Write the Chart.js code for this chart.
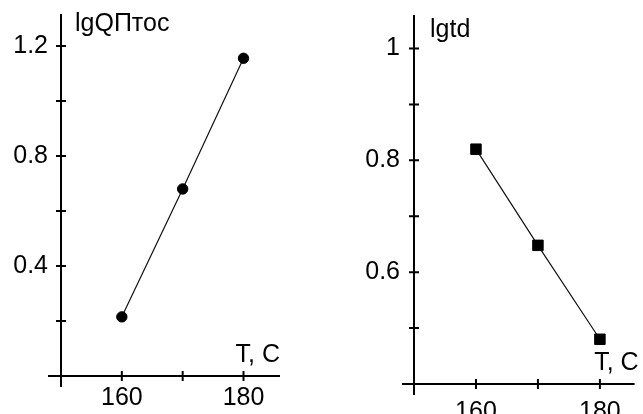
<!DOCTYPE html>
<html><head><meta charset="utf-8">
<script src="https://cdn.jsdelivr.net/npm/chart.js@4/dist/chart.umd.min.js"></script>
<style>
html,body{margin:0;padding:0;background:#fff;overflow:hidden}
#wrap{position:relative;width:643px;height:414px;background:#fff}
canvas{position:absolute;top:0}
#c1{left:0}
#c2{left:320px}
</style></head><body>
<div id="wrap">
<canvas id="c1" width="320" height="414"></canvas>
<canvas id="c2" width="323" height="414"></canvas>
</div>
<script>
// ---- data ----
const temperatures = [160, 170, 180];
const lgQValues = [0.215, 0.68, 1.155];
const lgTdValues = [0.82, 0.648, 0.48];
const xTickValues = [160, 170, 180];
const xTickLabels = ['160', '', '180'];
const leftYTickValues = [0.2, 0.4, 0.6, 0.8, 1.0, 1.2];
const leftYTickLabels = ['', '0.4', '', '0.8', '', '1.2'];
const rightYTickValues = [0.5, 0.6, 0.7, 0.8, 0.9, 1.0];
const rightYTickLabels = ['', '0.6', '', '0.8', '', '1'];
const leftYTitle = 'lgQПтос';
const rightYTitle = 'lgtd';
const xTitle = 'T, C';

const FONT = "'Liberation Sans', Arial, sans-serif";
const FONT_SIZE = 25;

const crossAxes = {
  id: 'crossAxes',
  beforeDatasetsDraw(chart, args, o) {
    const ctx = chart.ctx, a = chart.chartArea, x = chart.scales.x, y = chart.scales.y;
    ctx.save();
    ctx.strokeStyle = '#000';
    ctx.lineWidth = 2;
    ctx.beginPath();
    ctx.moveTo(a.left - o.xExtendLeft, a.bottom); ctx.lineTo(a.right, a.bottom);
    ctx.moveTo(a.left, a.top); ctx.lineTo(a.left, a.bottom + o.yExtendDown);
    x.ticks.forEach(t => {
      const px = x.getPixelForValue(t.value);
      ctx.moveTo(px, a.bottom - 5); ctx.lineTo(px, a.bottom + 5);
    });
    y.ticks.forEach(t => {
      const py = y.getPixelForValue(t.value);
      ctx.moveTo(a.left - 5, py); ctx.lineTo(a.left + 5, py);
    });
    ctx.stroke();
    ctx.fillStyle = '#000';
    ctx.font = FONT_SIZE + 'px ' + FONT;
    ctx.textBaseline = 'alphabetic';
    ctx.textAlign = 'left';
    ctx.fillText(o.yTitle, a.left + o.yTitleDx, o.yTitleBase);
    ctx.textAlign = 'right';
    ctx.fillText(o.xTitle, a.right + o.xTitleDx, o.xTitleBase);
    ctx.restore();
  }
};

function noPad(s) { s.paddingTop = 0; s.paddingBottom = 0; s.paddingLeft = 0; s.paddingRight = 0; }

function makeChart(id, yValues, yTicks, yLabels, cfg) {
  return new Chart(document.getElementById(id), {
    type: 'scatter',
    data: {
      datasets: [{
        data: temperatures.map((t, i) => ({x: t, y: yValues[i]})),
        showLine: true,
        borderColor: '#111',
        borderWidth: 1.2,
        pointStyle: cfg.pointStyle,
        pointRadius: cfg.pointRadius,
        pointBackgroundColor: '#000',
        pointBorderColor: '#000',
        pointBorderWidth: 1
      }]
    },
    options: {
      responsive: false,
      animation: false,
      events: [],
      layout: {padding: cfg.padding},
      plugins: {
        legend: {display: false},
        tooltip: {enabled: false},
        crossAxes: cfg.axes
      },
      scales: {
        x: {
          type: 'linear', min: cfg.xMin, max: cfg.xMax,
          grid: {display: false, drawTicks: false},
          border: {display: false},
          afterFit: s => { s.height = cfg.xHeight; noPad(s); },
          afterBuildTicks: s => { s.ticks = xTickValues.map(v => ({value: v})); },
          ticks: {
            autoSkip: false, maxRotation: 0, padding: cfg.xPad,
            color: '#000', font: {family: FONT, size: FONT_SIZE},
            callback: (v, i) => xTickLabels[i]
          }
        },
        y: {
          type: 'linear', min: cfg.yMin, max: cfg.yMax,
          grid: {display: false, drawTicks: false},
          border: {display: false},
          afterFit: s => { s.width = cfg.yWidth; noPad(s); },
          afterBuildTicks: s => { s.ticks = yTicks.map(v => ({value: v})); },
          ticks: {
            autoSkip: false, padding: cfg.yPad,
            color: '#000', font: {family: FONT, size: FONT_SIZE},
            callback: (v, i) => yLabels[i]
          }
        }
      }
    },
    plugins: [crossAxes]
  });
}

makeChart('c1', lgQValues, leftYTickValues, leftYTickLabels, {
  pointStyle: 'circle', pointRadius: 5.2,
  padding: {left: 0, top: 14, right: 40, bottom: 0},
  xMin: 150, xMax: 186, yMin: 0, yMax: 1.316,
  xHeight: 38, yWidth: 61, xPad: 7, yPad: 13,
  axes: {xExtendLeft: 13, yExtendDown: 11, yTitle: leftYTitle, yTitleDx: 14, yTitleBase: 31,
         xTitle: xTitle, xTitleDx: 0, xTitleBase: 362}
});

makeChart('c2', lgTdValues, rightYTickValues, rightYTickLabels, {
  pointStyle: 'rect', pointRadius: 7.4,
  padding: {left: 0, top: 15, right: 0, bottom: 0},
  xMin: 150, xMax: 185.6, yMin: 0.4, yMax: 1.06,
  xHeight: 30, yWidth: 94, xPad: 13, yPad: 14,
  axes: {xExtendLeft: 12, yExtendDown: 11, yTitle: rightYTitle, yTitleDx: 16, yTitleBase: 37,
         xTitle: xTitle, xTitleDx: 4, xTitleBase: 370}
});
</script>
</body></html>
